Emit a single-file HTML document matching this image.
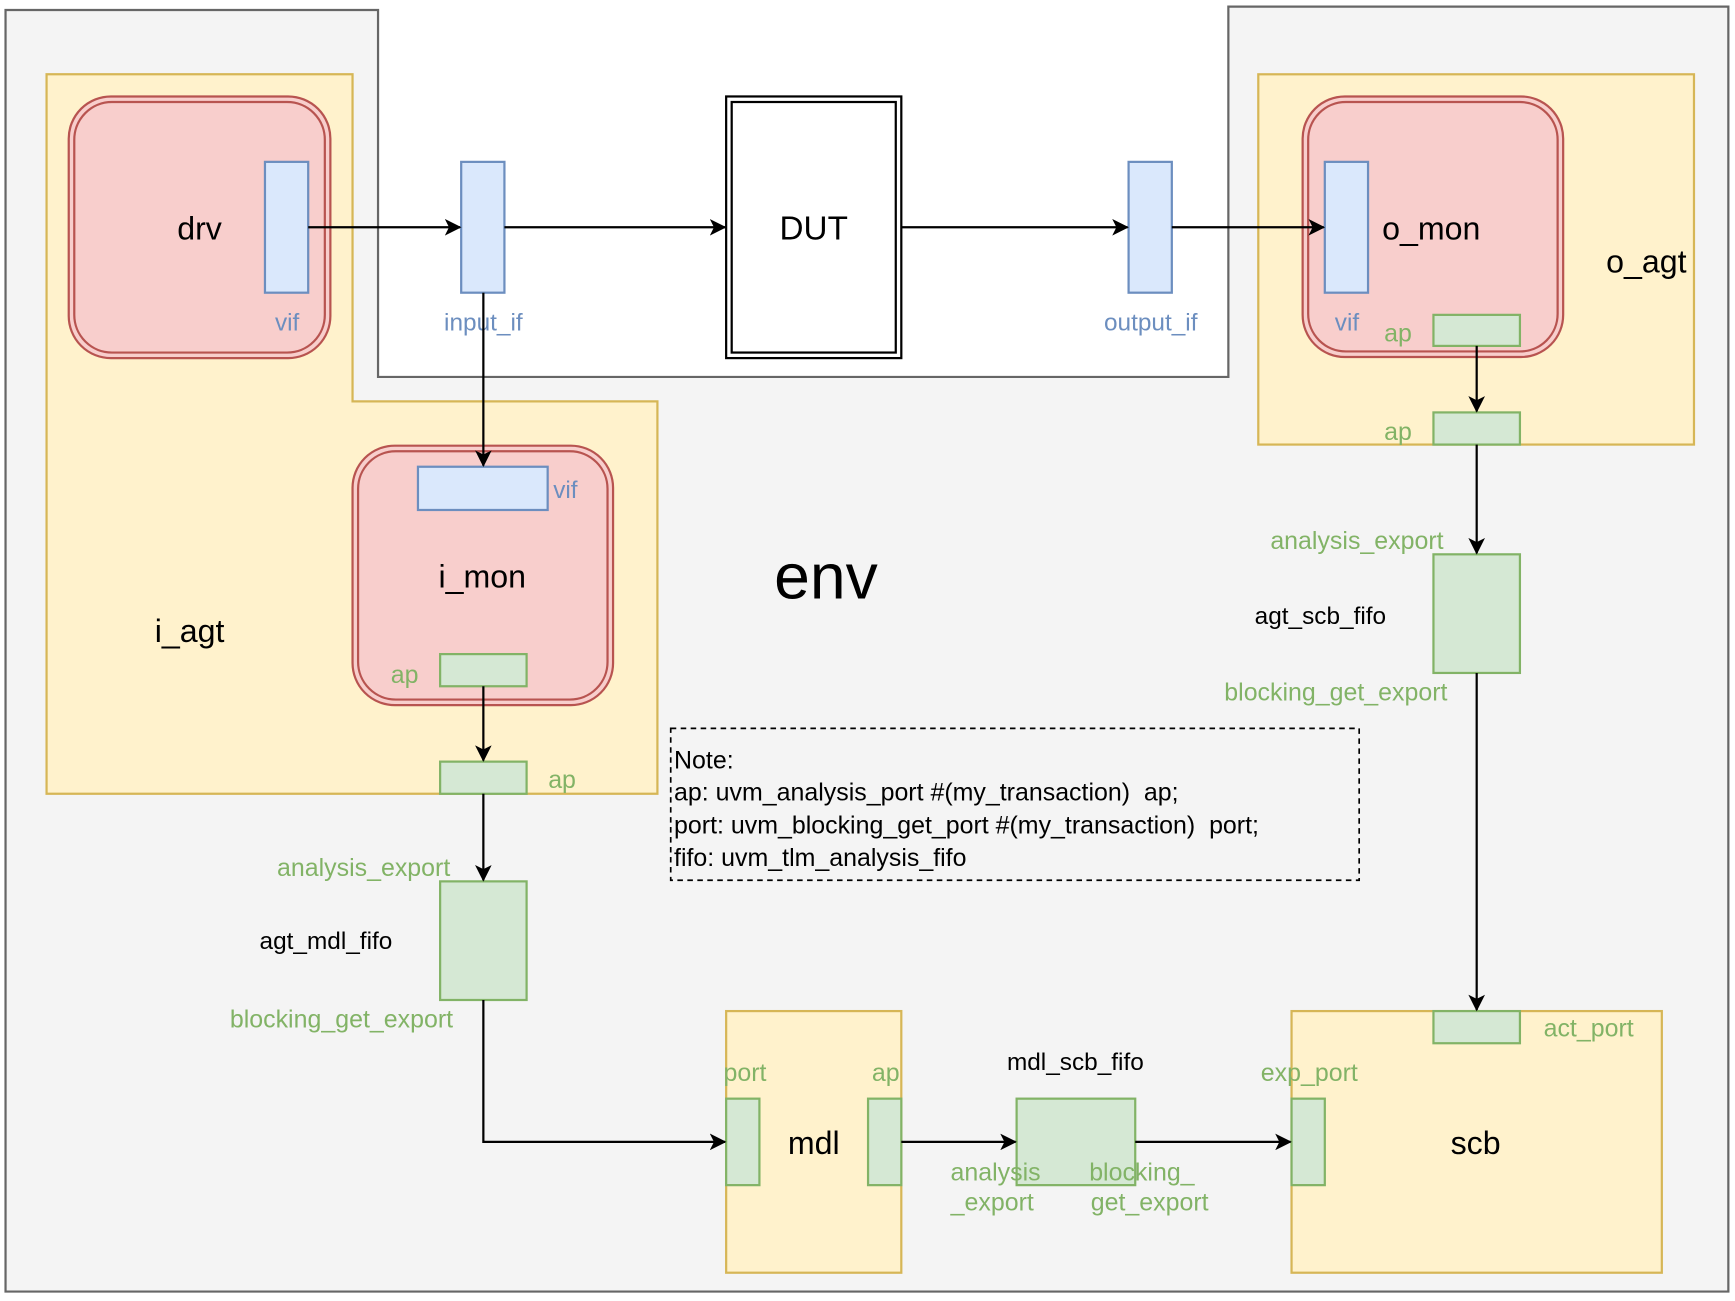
<!DOCTYPE html>
<html><head><meta charset="utf-8"><style>
html,body{margin:0;padding:0;background:#fff;}
svg{display:block;}
text{font-family:"Liberation Sans",Arial,sans-serif;white-space:pre;}
.g{fill:#82b366;font-size:22.5px;}
.b{fill:#6c8ebf;font-size:22px;}
</style></head><body>
<svg width="1735" height="1301" viewBox="0 0 1565 1173.5" xmlns="http://www.w3.org/2000/svg">
<defs>
<marker id="a" viewBox="0 0 12 12" refX="11" refY="6" markerWidth="15" markerHeight="15" markerUnits="userSpaceOnUse" orient="auto">
<path d="M0,0 L12,6 L0,12 L3,6 Z" fill="#000"/>
</marker>
</defs>
<path d="M5,9 H341 V340 H1108 V6 H1559 V1165 H5 Z" fill="#f4f4f4" stroke="#666" stroke-width="2"/>
<text x="745" y="540" font-size="58" text-anchor="middle">env</text>
<path d="M42,67 H318 V362 H593 V716 H42 Z" fill="#fff2cc" stroke="#d6b656" stroke-width="2"/>
<text x="171" y="579" font-size="29" text-anchor="middle">i_agt</text>
<rect x="62" y="87" width="236" height="236" rx="38" fill="#f8cecc" stroke="#b85450" stroke-width="2"/>
<rect x="67" y="92" width="226" height="226" rx="34" fill="none" stroke="#b85450" stroke-width="2"/>
<text x="180" y="216" font-size="29" text-anchor="middle">drv</text>
<rect x="239" y="146" width="39" height="118" fill="#dae8fc" stroke="#6c8ebf" stroke-width="2"/>
<text x="259" y="298" class="b" text-anchor="middle">vif</text>
<rect x="416" y="146" width="39" height="118" fill="#dae8fc" stroke="#6c8ebf" stroke-width="2"/>
<text x="436" y="298" class="b" text-anchor="middle">input_if</text>
<rect x="655" y="87" width="158" height="236" fill="#fff" stroke="#000" stroke-width="2"/>
<rect x="660" y="92" width="148" height="226" fill="none" stroke="#000" stroke-width="2"/>
<text x="734" y="216" font-size="30" text-anchor="middle">DUT</text>
<rect x="1018" y="146" width="39" height="118" fill="#dae8fc" stroke="#6c8ebf" stroke-width="2"/>
<text x="1038" y="298" class="b" text-anchor="middle">output_if</text>
<rect x="1135" y="67" width="393" height="334" fill="#fff2cc" stroke="#d6b656" stroke-width="2"/>
<text x="1485" y="246" font-size="29" text-anchor="middle">o_agt</text>
<rect x="1175" y="87" width="235" height="235" rx="38" fill="#f8cecc" stroke="#b85450" stroke-width="2"/>
<rect x="1180" y="92" width="225" height="225" rx="34" fill="none" stroke="#b85450" stroke-width="2"/>
<rect x="1195" y="146" width="39" height="118" fill="#dae8fc" stroke="#6c8ebf" stroke-width="2"/>
<text x="1291" y="216" font-size="29" text-anchor="middle">o_mon</text>
<text x="1215" y="298" class="b" text-anchor="middle">vif</text>
<rect x="1293" y="284" width="78" height="28" fill="#d5e8d4" stroke="#82b366" stroke-width="2"/>
<text x="1261" y="308" class="g" text-anchor="middle">ap</text>
<rect x="1293" y="372" width="78" height="29" fill="#d5e8d4" stroke="#82b366" stroke-width="2"/>
<text x="1261" y="397" class="g" text-anchor="middle">ap</text>
<rect x="318" y="402" width="235" height="234" rx="38" fill="#f8cecc" stroke="#b85450" stroke-width="2"/>
<rect x="323" y="407" width="225" height="224" rx="34" fill="none" stroke="#b85450" stroke-width="2"/>
<rect x="377" y="421" width="117" height="39" fill="#dae8fc" stroke="#6c8ebf" stroke-width="2"/>
<text x="510" y="449" class="b" text-anchor="middle">vif</text>
<text x="435" y="530" font-size="29" text-anchor="middle">i_mon</text>
<rect x="397" y="590" width="78" height="29" fill="#d5e8d4" stroke="#82b366" stroke-width="2"/>
<text x="365" y="616" class="g" text-anchor="middle">ap</text>
<rect x="397" y="687" width="78" height="29" fill="#d5e8d4" stroke="#82b366" stroke-width="2"/>
<text x="507" y="711" class="g" text-anchor="middle">ap</text>
<rect x="397" y="795" width="78" height="107" fill="#d5e8d4" stroke="#82b366" stroke-width="2"/>
<text x="328" y="790" class="g" text-anchor="middle">analysis_export</text>
<text x="294" y="856" font-size="22" text-anchor="middle">agt_mdl_fifo</text>
<text x="308" y="927" class="g" text-anchor="middle">blocking_get_export</text>
<rect x="1293" y="500" width="78" height="107" fill="#d5e8d4" stroke="#82b366" stroke-width="2"/>
<text x="1224" y="495" class="g" text-anchor="middle">analysis_export</text>
<text x="1191" y="563" font-size="22" text-anchor="middle">agt_scb_fifo</text>
<text x="1205" y="632" class="g" text-anchor="middle">blocking_get_export</text>
<rect x="605" y="657" width="621" height="137" fill="none" stroke="#000" stroke-width="1.5" stroke-dasharray="5,4"/>
<text x="608" y="693" font-size="22.5">Note:</text>
<text x="608" y="722" font-size="22.5">ap: uvm_analysis_port #(my_transaction)  ap;</text>
<text x="608" y="752" font-size="22.5">port: uvm_blocking_get_port #(my_transaction)  port;</text>
<text x="608" y="781" font-size="22.5">fifo: uvm_tlm_analysis_fifo</text>
<rect x="655" y="912" width="158" height="236" fill="#fff2cc" stroke="#d6b656" stroke-width="2"/>
<rect x="655" y="991" width="30" height="78" fill="#d5e8d4" stroke="#82b366" stroke-width="2"/>
<rect x="783" y="991" width="30" height="78" fill="#d5e8d4" stroke="#82b366" stroke-width="2"/>
<text x="734" y="1041" font-size="29" text-anchor="middle">mdl</text>
<text x="672" y="975" class="g" text-anchor="middle">port</text>
<text x="799" y="975" class="g" text-anchor="middle">ap</text>
<rect x="917" y="991" width="107" height="78" fill="#d5e8d4" stroke="#82b366" stroke-width="2"/>
<text x="970" y="965" font-size="22" text-anchor="middle">mdl_scb_fifo</text>
<text x="898" y="1065" class="g" text-anchor="middle">analysis</text>
<text x="895" y="1092" class="g" text-anchor="middle">_export</text>
<text x="1030" y="1065" class="g" text-anchor="middle">blocking_</text>
<text x="1037" y="1092" class="g" text-anchor="middle">get_export</text>
<rect x="1165" y="912" width="334" height="236" fill="#fff2cc" stroke="#d6b656" stroke-width="2"/>
<rect x="1293" y="912" width="78" height="29" fill="#d5e8d4" stroke="#82b366" stroke-width="2"/>
<rect x="1165" y="991" width="30" height="78" fill="#d5e8d4" stroke="#82b366" stroke-width="2"/>
<text x="1331" y="1041" font-size="29" text-anchor="middle">scb</text>
<text x="1433" y="935" class="g" text-anchor="middle">act_port</text>
<text x="1181" y="975" class="g" text-anchor="middle">exp_port</text>
<g stroke="#000" stroke-width="2" fill="none" marker-end="url(#a)">
<path d="M278,205 H415"/>
<path d="M455,205 H654"/>
<path d="M813,205 H1017"/>
<path d="M1057,205 H1194"/>
<path d="M436,264 V420"/>
<path d="M436,619 V686"/>
<path d="M436,716 V794"/>
<path d="M436,902 V1030 H654"/>
<path d="M1332,312 V371"/>
<path d="M1332,401 V499"/>
<path d="M1332,607 V911"/>
<path d="M813,1030 H916"/>
<path d="M1024,1030 H1164"/>
</g>
</svg>
</body></html>
